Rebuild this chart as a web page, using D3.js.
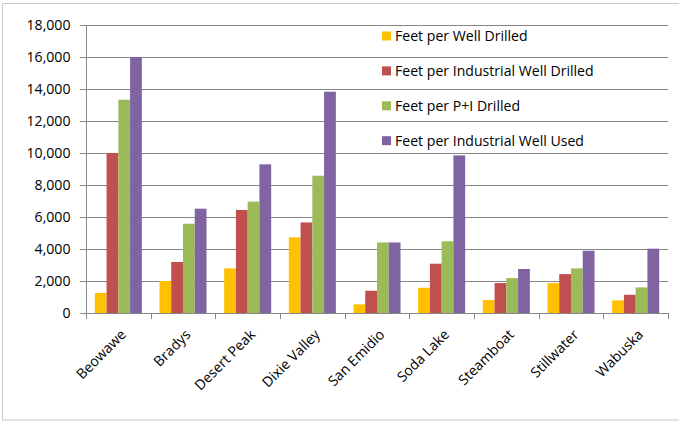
<!DOCTYPE html>
<html>
<head>
<meta charset="utf-8">
<script src="https://cdn.jsdelivr.net/npm/d3@7"></script>
<style>
  html, body { margin: 0; padding: 0; background: #fff; }
  svg { display: block; }
  text { font-family: "Open Sans", Lato, sans-serif; fill: #000; }
</style>
</head>
<body>
<svg id="chart" width="679" height="421"></svg>
<script>
// Geothermal fields on the category axis
const fields = ["Beowawe", "Bradys", "Desert Peak", "Dixie Valley", "San Emidio",
                "Soda Lake", "Steamboat", "Stillwater", "Wabuska"];

// One array per series (feet)
const feetPerWellDrilled           = [1250, 2000, 2790, 4730, 540, 1580, 810, 1870, 790];
const feetPerIndustrialWellDrilled = [10000, 3190, 6440, 5660, 1390, 3080, 1870, 2430, 1140];
const feetPerPIDrilled             = [13330, 5580, 6960, 8580, 4410, 4480, 2180, 2790, 1600];
const feetPerIndustrialWellUsed    = [16000, 6520, 9290, 13830, 4410, 9850, 2750, 3890, 4020];

const seriesNames = ["Feet per Well Drilled", "Feet per Industrial Well Drilled",
                     "Feet per P+I Drilled", "Feet per Industrial Well Used"];
const seriesColors = ["#FFC000", "#C0504D", "#9BBB59", "#8064A2"];
const yTicks = [0, 2000, 4000, 6000, 8000, 10000, 12000, 14000, 16000, 18000];

const seriesValues = [feetPerWellDrilled, feetPerIndustrialWellDrilled,
                      feetPerPIDrilled, feetPerIndustrialWellUsed];

const FONT = 14.1;
const svg = d3.select("#chart");

// Chart frame
svg.append("rect")
  .attr("x", 2.5).attr("y", 3.5).attr("width", 690).attr("height", 416.5)
  .attr("fill", "none").attr("stroke", "#c8c8c8").attr("stroke-width", 1);

const plot = { left: 86, right: 668, top: 25, bottom: 313 };

const x0 = d3.scaleBand().domain(fields).range([plot.left, plot.right]).padding(0);
const step = x0.bandwidth();
const barW = step / 5.5;            // four bars plus a 150% gap
const x1 = d3.scaleBand().domain(d3.range(4))
  .range([0.75 * barW, 4.75 * barW]).padding(0);

const y = d3.scaleLinear().domain([0, 18000]).range([plot.bottom, plot.top]);

const gridColor = "#878787";

// Horizontal gridlines
svg.append("g")
  .selectAll("line")
  .data(yTicks.filter(d => d > 0))
  .join("line")
  .attr("x1", plot.left - 6).attr("x2", plot.right)
  .attr("y1", d => Math.round(y(d)) + 0.5).attr("y2", d => Math.round(y(d)) + 0.5)
  .attr("stroke", gridColor).attr("stroke-width", 1);

// Bars
const groups = svg.append("g")
  .selectAll("g")
  .data(fields)
  .join("g")
  .attr("transform", d => `translate(${x0(d)},0)`);

groups.selectAll("rect")
  .data((d, i) => seriesValues.map((vals, s) => ({ s, v: vals[i] })))
  .join("rect")
  .attr("x", d => x1(d.s))
  .attr("width", x1.bandwidth())
  .attr("y", d => y(d.v))
  .attr("height", d => y(0) - y(d.v))
  .attr("fill", d => seriesColors[d.s]);

// Y axis
const yAxis = svg.append("g")
  .attr("transform", `translate(${plot.left + 0.5},0)`)
  .call(d3.axisLeft(y).tickValues(yTicks).tickSize(6).tickPadding(10)
    .tickFormat(d3.format(",")));
yAxis.select(".domain").attr("stroke", gridColor)
  .attr("d", `M0,${plot.top + 0.5}V${plot.bottom + 0.5}`);
yAxis.selectAll(".tick line").attr("stroke", gridColor);
yAxis.selectAll(".tick text")
  .attr("font-family", "'Open Sans', Lato, sans-serif").attr("font-size", FONT).attr("fill", "#000");

// X axis baseline and category separators
const xg = svg.append("g");
xg.append("line")
  .attr("x1", plot.left).attr("x2", plot.right)
  .attr("y1", plot.bottom + 0.5).attr("y2", plot.bottom + 0.5)
  .attr("stroke", gridColor);
xg.selectAll("line.sep")
  .data(fields.map(f => x0(f)).concat([plot.right]))
  .join("line").attr("class", "sep")
  .attr("x1", d => Math.round(d) + 0.5).attr("x2", d => Math.round(d) + 0.5)
  .attr("y1", plot.bottom).attr("y2", plot.bottom + 6)
  .attr("stroke", gridColor);

// Rotated category labels
xg.selectAll("text")
  .data(fields)
  .join("text")
  .attr("transform", d => `translate(${x0(d) + step / 2 + 5},${plot.bottom + 19}) rotate(-45)`)
  .attr("text-anchor", "end")
  .attr("dy", "0.35em")
  .attr("font-size", FONT)
  .text(d => d);

// Legend
const legend = svg.append("g").attr("transform", "translate(382,36)");
const items = legend.selectAll("g")
  .data(seriesNames)
  .join("g")
  .attr("transform", (d, i) => `translate(0,${i * 34.9})`);
items.append("rect")
  .attr("x", 0).attr("y", -4.5).attr("width", 9).attr("height", 9)
  .attr("fill", (d, i) => seriesColors[i]);
items.append("text")
  .attr("x", 13).attr("dy", "0.35em")
  .attr("font-size", FONT)
  .text(d => d);
</script>
</body>
</html>
